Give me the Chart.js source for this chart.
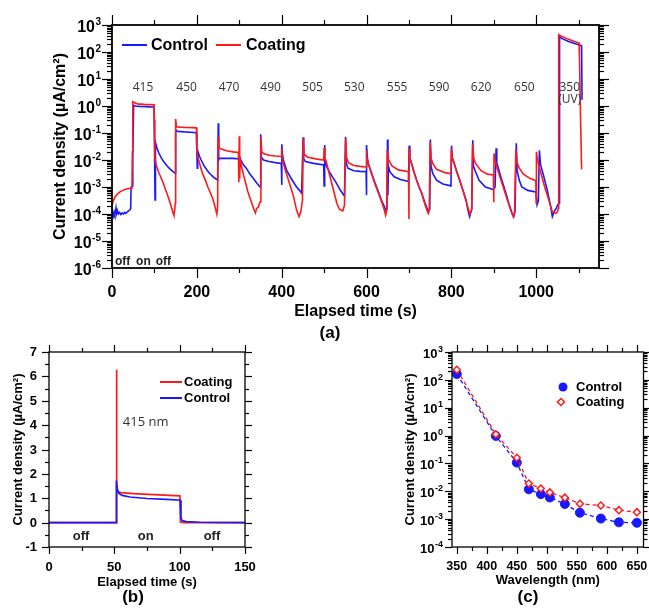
<!DOCTYPE html>
<html>
<head>
<meta charset="utf-8">
<script src="https://cdn.jsdelivr.net/npm/chart.js@4.4.0/dist/chart.umd.min.js"></script>
<style>
html, body { margin: 0; padding: 0; background: #fff; }
#wrap { position: relative; width: 649px; height: 610px; }
canvas { position: absolute; left: 0; top: 0; }
</style>
</head>
<body>
<div id="wrap">
  <canvas id="chartA" width="649" height="610"></canvas>
  <canvas id="chartB" width="649" height="610"></canvas>
  <canvas id="chartC" width="649" height="610"></canvas>
</div>
<script>
// ---------- (a) full time trace: [time (s), current density (µA/cm²)] ----------
const controlTrace = [
  [0, 8e-5], [1.5, 1.1e-4], [3, 8.5e-5], [5, 1.2e-4], [6.5, 9.5e-5], [8, 1.1e-4], [9.5, 1.65e-4], [11, 1.05e-4],
  [13, 1.3e-4], [15, 1e-4], [18, 1.15e-4], [21, 9.5e-5], [24, 1.1e-4], [27, 1e-4], [30, 1.15e-4], [33, 1.05e-4],
  [36, 1.2e-4], [39, 1.3e-4], [42, 1.4e-4], [44, 1.6e-4], [45, 1.0e-3], [48, 1.1e-3], [49, 1.5e-2], [51, 1.05],
  [55, 1.0], [65, 0.97], [80, 0.95], [90, 0.93], [99, 0.92], [100, 0.05], [101.5, 3.3e-4], [102.5, 0.045],
  [106, 0.028], [110, 0.019], [115, 0.013], [120, 9.5e-3], [125, 7.5e-3], [130, 6e-3], [137, 4.6e-3], [144, 3.7e-3],
  [149, 3.2e-3], [150, 0.11], [152, 0.125], [155, 0.115], [170, 0.11], [185, 0.107], [199, 0.103], [200, 0.02],
  [201, 5e-3], [202, 0.022], [206, 0.014], [210, 0.01], [218, 5.7e-3], [229, 3.3e-3], [241, 2.2e-3], [249, 1.8e-3],
  [250.5, 0.23], [251.5, 0.01], [253, 0.0115], [270, 0.0115], [285, 0.0115], [299, 0.011], [301, 0.013], [305, 9e-3],
  [310, 6.5e-3], [317, 4.9e-3], [325, 3e-3], [333, 2.1e-3], [341, 1.4e-3], [349, 1e-3], [350.5, 0.09], [352, 0.013],
  [357, 0.01], [370, 0.0088], [385, 0.008], [399, 0.0075], [400, 1.2e-3], [400.7, 0.038], [402, 0.015], [404, 0.01],
  [412, 4e-3], [420, 2.4e-3], [428, 1.5e-3], [435, 1e-3], [442, 7.5e-4], [447, 5.9e-4], [450.5, 0.07], [452, 0.011],
  [456, 0.0087], [475, 0.0075], [499, 0.0066], [500, 1.1e-3], [500.7, 0.036], [502, 0.012], [506, 5.7e-3], [514, 3.3e-3],
  [522, 2.1e-3], [530, 1.3e-3], [538, 7.7e-4], [548, 4.6e-4], [550.5, 0.073], [552, 8e-3], [556, 5e-3], [570, 4e-3],
  [585, 3.8e-3], [599, 3.7e-3], [599.5, 5e-4], [600.5, 0.036], [602, 0.012], [604, 7.6e-3], [612, 3.2e-3], [620, 1.4e-3],
  [628, 6.6e-4], [635, 3.3e-4], [642, 1.9e-4], [645, 1.4e-4], [648, 1.5e-4], [649.5, 0.057], [650.5, 5e-4], [651.5, 6e-3],
  [655, 3.7e-3], [665, 2.4e-3], [680, 1.9e-3], [699, 1.6e-3], [700.5, 0.034], [702, 0.012], [706, 7.6e-3], [712, 3.5e-3],
  [718, 1.8e-3], [724, 1e-3], [730, 5.9e-4], [738, 2.5e-4], [746, 1.2e-4], [749, 1.5e-4], [750.5, 0.057], [752, 6e-3],
  [756, 3.2e-3], [765, 1.8e-3], [780, 1.3e-3], [799, 1.1e-3], [800.5, 0.034], [802, 0.012], [806, 8e-3], [812, 4e-3],
  [820, 1.7e-3], [828, 7e-4], [835, 3e-4], [840, 1.2e-4], [843, 8e-5], [848, 1.5e-4], [850.5, 0.054], [852, 6e-3],
  [856, 4e-3], [865, 1.8e-3], [880, 1.0e-3], [899, 8.1e-4], [903, 1e-3], [905.5, 0.027], [907, 8e-3], [912, 4.3e-3],
  [918, 2e-3], [924, 1e-3], [930, 5e-4], [935, 2.5e-4], [943, 1.05e-4], [947, 8e-5], [950, 1.2e-4], [953, 0.042],
  [955, 4e-3], [960, 1.8e-3], [966, 1e-3], [980, 7.5e-4], [999, 6.6e-4], [1002, 2.2e-4], [1005, 3e-4], [1007.5, 0.023],
  [1010, 7e-3], [1018, 2.4e-3], [1026, 7.7e-4], [1034, 1.9e-4], [1038, 8e-5], [1042, 1.2e-4], [1047, 1.6e-4], [1051, 2.2e-4],
  [1054, 2.5e-4], [1055, 370], [1060, 320], [1075, 250], [1090, 205], [1104, 178], [1107, 170], [1108, 1.7]
];
const coatingTrace = [
  [0, 2.1e-4], [3, 3e-4], [7, 4.3e-4], [12, 5.3e-4], [18, 6.5e-4], [25, 7.5e-4], [32, 8.3e-4], [40, 8.8e-4],
  [47, 9e-4], [48, 0.02], [49, 1.45], [52, 1.35], [60, 1.2], [75, 1.15], [90, 1.12], [99, 1.1], [100, 0.3],
  [101, 0.013], [104, 6.5e-3], [110, 3.5e-3], [115, 2.3e-3], [120, 1.5e-3], [125, 9e-4], [130, 5.5e-4], [135, 3.2e-4],
  [140, 1.8e-4], [144, 1.1e-4], [146, 9e-5], [148, 1.5e-4], [149, 2.5e-4], [150, 0.33], [152, 0.17], [160, 0.165],
  [175, 0.16], [190, 0.158], [199, 0.155], [200, 0.02], [203, 0.012], [208, 6e-3], [214, 3e-3], [220, 1.8e-3],
  [226, 1e-3], [232, 6e-4], [238, 3.5e-4], [243, 1.8e-4], [247, 1.0e-4], [249, 1.8e-4], [250, 0.07], [252, 0.03],
  [256, 0.026], [270, 0.022], [285, 0.02], [298, 0.019], [299, 1.5e-3], [300, 0.075], [301, 2e-3], [302, 0.011],
  [305, 6e-3], [310, 2.8e-3], [315, 1.4e-3], [320, 7e-4], [325, 4e-4], [330, 2.4e-4], [335, 1.4e-4], [338, 1.1e-4],
  [341, 1.6e-4], [345, 1.8e-4], [349, 2.8e-4], [351, 0.072], [353, 0.02], [357, 0.0175], [370, 0.015], [385, 0.014],
  [399, 0.0135], [400, 0.027], [401, 0.012], [404, 7.6e-3], [410, 3.5e-3], [416, 1.8e-3], [422, 9e-4], [428, 4.4e-4],
  [435, 1.4e-4], [441, 8e-5], [445, 1.2e-4], [449, 3.3e-4], [451, 0.063], [453, 0.016], [460, 0.013], [480, 0.011],
  [499, 0.01], [500, 0.028], [502, 0.012], [506, 7.6e-3], [514, 2.4e-3], [522, 7.7e-4], [530, 2.5e-4], [536, 1.5e-4],
  [544, 1.3e-4], [548, 2.1e-4], [551, 0.063], [553, 0.012], [557, 8e-3], [570, 6.3e-3], [585, 5.8e-3], [599, 5.5e-3],
  [600, 0.023], [601, 0.012], [604, 7.6e-3], [612, 3e-3], [620, 1.3e-3], [628, 6e-4], [635, 3e-4], [641, 1.6e-4],
  [645, 9e-5], [648, 1.5e-4], [649, 0.023], [652, 0.01], [660, 6e-3], [675, 4.3e-3], [699, 3.7e-3], [700, 6.5e-5],
  [700.5, 0.027], [702, 0.012], [706, 7.6e-3], [712, 3.5e-3], [718, 1.8e-3], [724, 1e-3], [730, 5.9e-4], [738, 2.2e-4],
  [744, 1.2e-4], [746, 1.05e-4], [748, 1.5e-4], [750, 0.047], [752, 0.012], [756, 7.5e-3], [765, 4.5e-3], [785, 3.4e-3],
  [799, 3.1e-3], [800, 0.027], [802, 0.012], [806, 8e-3], [812, 4e-3], [820, 1.7e-3], [828, 7e-4], [835, 3e-4],
  [840, 1.5e-4], [844, 1e-4], [848, 1.5e-4], [850, 0.039], [853, 0.011], [858, 7e-3], [870, 4e-3], [885, 3e-3],
  [899, 2.8e-3], [900, 2.7e-4], [900.5, 0.0175], [903, 9e-3], [908, 5e-3], [914, 2.5e-3], [920, 1.3e-3], [926, 6.5e-4],
  [932, 3.3e-4], [938, 1.8e-4], [943, 1.05e-4], [946, 8e-5], [949, 1.2e-4], [952, 0.025], [955, 8e-3], [960, 5e-3],
  [970, 3e-3], [985, 2.1e-3], [999, 1.7e-3], [1000, 2.5e-4], [1000.5, 0.02], [1003, 0.01], [1008, 5e-3], [1014, 2.2e-3],
  [1020, 1e-3], [1026, 5e-4], [1032, 2.5e-4], [1038, 1.2e-4], [1043, 1.1e-4], [1046, 1.05e-4], [1050, 1.2e-4], [1052, 1.6e-4],
  [1053, 440], [1060, 380], [1075, 300], [1090, 245], [1101, 215], [1102, 60], [1104, 1], [1107, 4.5e-3]
];
const waveLabels = ['415', '450', '470', '490', '505', '530', '555', '590', '620', '650', '350'];
const waveLabelTimes = [73, 176, 276, 374, 473, 571, 672, 771, 870, 972, 1079];
const waveLabelLevel = 4.8;
const uvNote = '(UV)';
const uvNoteLevel = 1.67;
const stateLabels = ['off', 'on', 'off'];
const stateTimesA = [25, 74, 121];
const stateLevelA = 1.7e-6;

// ---------- (b) single 415 nm cycle, linear current ----------
const cycleControl = [
  [0, 0], [51.4, 0], [51.6, 1.73], [52.2, 1.35], [53.5, 1.2], [56, 1.12], [62, 1.05], [75, 0.99], [90, 0.95],
  [100.5, 0.92], [101, 0.18], [102, 0.08], [105, 0.04], [115, 0.015], [128, 0.005], [150, 0]
];
const cycleCoating = [
  [0, 0], [51.3, 0], [51.6, 6.27], [52.0, 1.6], [52.6, 1.28], [55, 1.23], [65, 1.19], [80, 1.15], [100.2, 1.1],
  [100.6, 0.02], [103, 0], [150, 0]
];
const stateTimesB = [24.5, 74, 124.7];
const stateLevelB = -0.55;
const cycleNote = '415 nm';

// ---------- (c) photocurrent vs wavelength ----------
const wavelengths = [350, 415, 450, 470, 490, 505, 530, 555, 590, 620, 650];
const controlPeak = [162, 0.97, 0.107, 0.0118, 0.0079, 0.006, 0.0035, 0.0017, 0.00105, 0.00077, 0.00074];
const coatingPeak = [230, 1.12, 0.16, 0.019, 0.0126, 0.0091, 0.0059, 0.00355, 0.0031, 0.0021, 0.00178];

const BLUE = 'rgb(25,25,255)';
const RED = 'rgb(255,25,25)';
const FAM = '"Liberation Sans", Arial, sans-serif';

function font(size, weight) { return (weight || 'bold') + ' ' + size + 'px ' + FAM; }
function pts(arr) { return arr.map(p => ({ x: p[0], y: p[1] })); }
function seg(ctx, x1, y1, x2, y2) { ctx.beginPath(); ctx.moveTo(x1, y1); ctx.lineTo(x2, y2); ctx.stroke(); }
function logMinor(lo, hi) {
  const out = [];
  for (let e = lo; e < hi; e++) for (let k = 2; k <= 9; k++) out.push(k * Math.pow(10, e));
  return out;
}
function range(a, b, step) { const out = []; for (let v = a; v <= b + 1e-9; v += step) out.push(v); return out; }

// "10" with a raised exponent, right edge at rx
function powLabel(ctx, rx, y, exp, fs, sfs, raise) {
  const e = String(exp);
  ctx.font = font(sfs); const ew = ctx.measureText(e).width;
  ctx.font = font(fs); const bw = ctx.measureText('10').width;
  const x0 = rx - ew - bw - 0.5;
  const base = y + fs * 0.36 + 1;
  ctx.textAlign = 'left'; ctx.textBaseline = 'alphabetic';
  ctx.fillText('10', x0, base);
  ctx.font = font(sfs);
  ctx.fillText(e, x0 + bw + 0.5, base - raise);
}

// frame, ticks, labels and titles of one panel
function drawAxes(chart, o) {
  const ctx = chart.ctx, a = chart.chartArea, xs = chart.scales.x, ys = chart.scales.y;
  ctx.save();
  ctx.strokeStyle = '#000'; ctx.fillStyle = '#000'; ctx.lineWidth = o.lw;
  ctx.strokeRect(a.left, a.top, a.right - a.left, a.bottom - a.top);
  ctx.lineWidth = 1.2;
  const xt = (vals, len) => vals.forEach(v => {
    const p = Math.round(xs.getPixelForValue(v)) + 0.5;
    seg(ctx, p, a.bottom, p, a.bottom + len); seg(ctx, p, a.top, p, a.top - len);
  });
  const yt = (vals, len) => vals.forEach(v => {
    const p = Math.round(ys.getPixelForValue(v)) + 0.5;
    seg(ctx, a.left, p, a.left - len, p); seg(ctx, a.right, p, a.right + len, p);
  });
  xt(o.xMinor, o.minor); xt(o.xMajor, o.major);
  yt(o.yMinor, o.minor); yt(o.yMajor, o.major);

  ctx.font = font(o.xfs); ctx.textAlign = 'center'; ctx.textBaseline = 'middle';
  o.xMajor.forEach(v => ctx.fillText(String(v), xs.getPixelForValue(v), o.xLabelY));

  if (o.log) {
    o.yMajor.forEach(v => powLabel(ctx, o.yLabelX, ys.getPixelForValue(v), Math.round(Math.log10(v)), o.yfs, o.sfs, o.raise));
  } else {
    ctx.font = font(o.yfs); ctx.textAlign = 'right'; ctx.textBaseline = 'middle';
    o.yMajor.forEach(v => ctx.fillText(String(v), o.yLabelX, ys.getPixelForValue(v) + 0.5));
  }

  ctx.font = font(o.tfs); ctx.textAlign = 'center'; ctx.textBaseline = 'middle';
  ctx.fillText(o.xTitle, (a.left + a.right) / 2, o.xTitleY);
  ctx.save();
  ctx.translate(o.yTitleX, (a.top + a.bottom) / 2);
  ctx.rotate(-Math.PI / 2);
  ctx.fillText('Current density (\u00b5A/cm\u00b2)', 0, 0);
  ctx.restore();

  ctx.font = font(17);
  ctx.fillText(o.letter, o.letterX, o.letterY);
  ctx.restore();
}

const baseOptions = (pad, xr, yType, yr) => ({
  responsive: false,
  animation: false,
  devicePixelRatio: 1,
  events: [],
  layout: { padding: pad },
  plugins: { legend: { display: false }, tooltip: { enabled: false } },
  scales: {
    x: { type: 'linear', display: false, min: xr[0], max: xr[1] },
    y: { type: yType, display: false, min: yr[0], max: yr[1] }
  }
});

// ---------- chart (a) ----------
const decorA = {
  id: 'decorA',
  afterDraw(chart) {
    drawAxes(chart, {
      lw: 1.8, major: 10, minor: 5,
      xMajor: range(0, 1000, 200), xMinor: range(100, 1100, 200),
      yMajor: range(-6, 3, 1).map(e => Math.pow(10, e)), yMinor: logMinor(-6, 3),
      log: true, yLabelX: 101, yfs: 16, sfs: 10, raise: 7,
      xfs: 16, xLabelY: 293, tfs: 16, xTitle: 'Elapsed time (s)', xTitleY: 312, yTitleX: 61,
      letter: '(a)', letterX: 330, letterY: 333
    });
    const ctx = chart.ctx, xs = chart.scales.x, ys = chart.scales.y;
    ctx.save();
    ctx.fillStyle = '#333'; ctx.font = '12px "Open Sans", sans-serif';
    ctx.textAlign = 'center'; ctx.textBaseline = 'middle';
    waveLabels.forEach((l, i) => ctx.fillText(l, xs.getPixelForValue(waveLabelTimes[i]), ys.getPixelForValue(waveLabelLevel)));
    ctx.fillText(uvNote, xs.getPixelForValue(waveLabelTimes[10]), ys.getPixelForValue(uvNoteLevel));
    ctx.fillStyle = '#222'; ctx.font = font(12);
    stateLabels.forEach((l, i) => ctx.fillText(l, xs.getPixelForValue(stateTimesA[i]), ys.getPixelForValue(stateLevelA)));
    // legend
    ctx.lineWidth = 2;
    ctx.strokeStyle = BLUE; seg(ctx, 122, 45, 147, 45);
    ctx.strokeStyle = RED; seg(ctx, 216, 45, 241, 45);
    ctx.fillStyle = '#000'; ctx.font = font(16); ctx.textAlign = 'left';
    ctx.fillText('Control', 151, 46);
    ctx.fillText('Coating', 246, 46);
    ctx.restore();
  }
};

new Chart(document.getElementById('chartA'), {
  type: 'line',
  data: {
    datasets: [
      { label: 'Coating', data: pts(coatingTrace), borderColor: RED, borderWidth: 1.6, pointRadius: 0, tension: 0, fill: false },
      { label: 'Control', data: pts(controlTrace), borderColor: BLUE, borderWidth: 1.6, pointRadius: 0, tension: 0, fill: false }
    ]
  },
  options: baseOptions({ left: 112, top: 25, right: 50, bottom: 342 }, [0, 1148], 'logarithmic', [1e-6, 1e3]),
  plugins: [decorA]
});

// ---------- chart (b) ----------
const decorB = {
  id: 'decorB',
  afterDraw(chart) {
    drawAxes(chart, {
      lw: 1.3, major: 7, minor: 4,
      xMajor: [0, 50, 100, 150], xMinor: [25, 75, 125],
      yMajor: range(-1, 7, 1), yMinor: range(-0.5, 6.5, 1),
      log: false, yLabelX: 37, yfs: 13,
      xfs: 13, xLabelY: 567, tfs: 13, xTitle: 'Elapsed time (s)', xTitleY: 582, yTitleX: 18,
      letter: '(b)', letterX: 133, letterY: 597
    });
    const ctx = chart.ctx, xs = chart.scales.x, ys = chart.scales.y;
    ctx.save();
    ctx.fillStyle = '#222'; ctx.font = font(13);
    ctx.textAlign = 'center'; ctx.textBaseline = 'middle';
    stateLabels.forEach((l, i) => ctx.fillText(l, xs.getPixelForValue(stateTimesB[i]), ys.getPixelForValue(stateLevelB)));
    ctx.fillStyle = '#333'; ctx.font = '13px "Open Sans", sans-serif';
    ctx.fillText(cycleNote, xs.getPixelForValue(74), ys.getPixelForValue(4.1));
    ctx.lineWidth = 2;
    ctx.strokeStyle = RED; seg(ctx, 160, 382, 182, 382);
    ctx.strokeStyle = BLUE; seg(ctx, 160, 398, 182, 398);
    ctx.fillStyle = '#000'; ctx.font = font(13); ctx.textAlign = 'left';
    ctx.fillText('Coating', 184, 382);
    ctx.fillText('Control', 184, 398);
    ctx.restore();
  }
};

new Chart(document.getElementById('chartB'), {
  type: 'line',
  data: {
    datasets: [
      { label: 'Control', data: pts(cycleControl), borderColor: BLUE, borderWidth: 1.7, pointRadius: 0, tension: 0, fill: false },
      { label: 'Coating', data: pts(cycleCoating), borderColor: RED, borderWidth: 1.7, pointRadius: 0, tension: 0, fill: false }
    ]
  },
  options: baseOptions({ left: 49, top: 352, right: 404, bottom: 63 }, [0, 150], 'linear', [-1, 7]),
  plugins: [decorB]
});

// ---------- chart (c) ----------
const decorC = {
  id: 'decorC',
  afterDraw(chart) {
    drawAxes(chart, {
      lw: 1.3, major: 7, minor: 4,
      xMajor: range(350, 650, 50), xMinor: range(375, 625, 50),
      yMajor: range(-4, 3, 1).map(e => Math.pow(10, e)), yMinor: logMinor(-4, 3),
      log: true, yLabelX: 443, yfs: 13, sfs: 9, raise: 6,
      xfs: 12.5, xLabelY: 567, tfs: 13, xTitle: 'Wavelength (nm)', xTitleY: 580, yTitleX: 410,
      letter: '(c)', letterX: 528, letterY: 597
    });
    const ctx = chart.ctx;
    ctx.save();
    ctx.fillStyle = BLUE;
    ctx.beginPath(); ctx.arc(563, 387, 4.5, 0, Math.PI * 2); ctx.fill();
    ctx.strokeStyle = RED; ctx.lineWidth = 1.5; ctx.fillStyle = '#fff';
    ctx.beginPath(); ctx.moveTo(561, 398.5); ctx.lineTo(564.5, 402); ctx.lineTo(561, 405.5); ctx.lineTo(557.5, 402); ctx.closePath();
    ctx.fill(); ctx.stroke();
    ctx.fillStyle = '#000'; ctx.font = font(13); ctx.textAlign = 'left'; ctx.textBaseline = 'middle';
    ctx.fillText('Control', 576, 387);
    ctx.fillText('Coating', 576, 402);
    ctx.restore();
  }
};

new Chart(document.getElementById('chartC'), {
  type: 'line',
  data: {
    datasets: [
      {
        label: 'Coating', data: wavelengths.map((w, i) => ({ x: w, y: coatingPeak[i] })),
        borderColor: RED, borderWidth: 1.3, borderDash: [4, 3], tension: 0,
        pointStyle: 'rectRot', pointRadius: 3.5, pointBorderWidth: 1.5, pointBorderColor: RED, pointBackgroundColor: '#fff'
      },
      {
        label: 'Control', data: wavelengths.map((w, i) => ({ x: w, y: controlPeak[i] })),
        borderColor: BLUE, borderWidth: 1.3, borderDash: [4, 3], tension: 0,
        pointStyle: 'circle', pointRadius: 4.5, pointBorderWidth: 1, pointBorderColor: BLUE, pointBackgroundColor: BLUE
      }
    ]
  },
  options: baseOptions({ left: 452, top: 352, right: 4, bottom: 63 }, [342, 661], 'logarithmic', [1e-4, 1e3]),
  plugins: [decorC]
});
</script>
</body>
</html>
